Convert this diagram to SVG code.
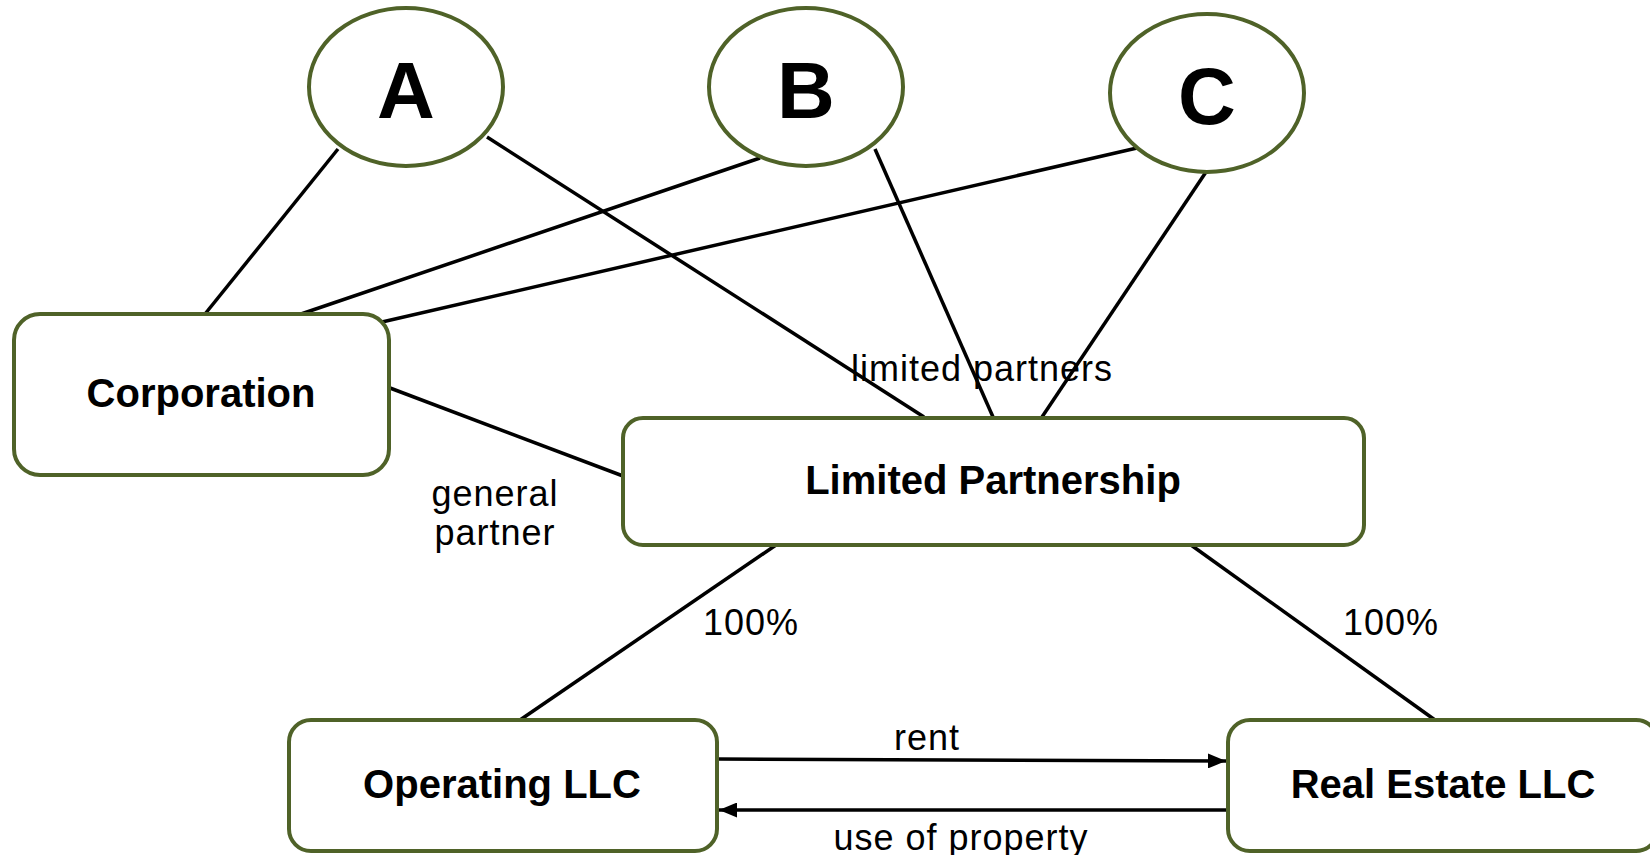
<svg xmlns="http://www.w3.org/2000/svg" width="1650" height="855" viewBox="0 0 1650 855">
  <style>
    .node { fill: #ffffff; stroke: #4f6228; stroke-width: 4; }
    .conn { stroke: #000000; stroke-width: 3.5; fill: none; }
    .title { font-family: "Liberation Sans", Arial, sans-serif; font-weight: bold; font-size: 40px; fill: #000000; text-anchor: middle; }
    .big { font-family: "Liberation Sans", Arial, sans-serif; font-weight: bold; font-size: 80px; fill: #000000; text-anchor: middle; }
    .label { font-family: "Liberation Sans", Arial, sans-serif; font-size: 36px; letter-spacing: 1px; fill: #000000; text-anchor: middle; }
  </style>
  <defs>
    <marker id="arrow" markerWidth="18" markerHeight="15" refX="18" refY="7.5" orient="auto" markerUnits="userSpaceOnUse">
      <path d="M0,0 L18,7.5 L0,15 Z" fill="#000000"/>
    </marker>
  </defs>
  <rect width="1650" height="855" fill="#ffffff"/>

  <g id="connectors">
    <line class="conn" x1="338" y1="149" x2="205" y2="314"/>
    <line class="conn" x1="487" y1="137" x2="924" y2="417"/>
    <line class="conn" x1="760" y1="158" x2="301" y2="314"/>
    <line class="conn" x1="875" y1="149" x2="993" y2="417"/>
    <line class="conn" x1="1137" y1="148" x2="382" y2="322"/>
    <line class="conn" x1="1206" y1="172" x2="1042" y2="417"/>
    <line class="conn" x1="390" y1="388" x2="623" y2="476"/>
    <line class="conn" x1="776" y1="545" x2="520" y2="720"/>
    <line class="conn" x1="1191" y1="545" x2="1435" y2="720"/>
    <line class="conn" x1="717" y1="759" x2="1226" y2="761" marker-end="url(#arrow)"/>
    <line class="conn" x1="1228" y1="810" x2="719" y2="810" marker-end="url(#arrow)"/>
    <text class="label" x="982" y="381">limited partners</text>
    <text class="label" x="495" y="506">general</text>
    <text class="label" x="495" y="545">partner</text>
    <text class="label" x="751" y="635">100%</text>
    <text class="label" x="1391" y="635">100%</text>
    <text class="label" x="927" y="750">rent</text>
    <text class="label" x="961" y="850">use of property</text>
  </g>

  <g id="node-a">
    <ellipse class="node" cx="406" cy="87" rx="97" ry="79"/>
    <text class="big" x="406" y="118">A</text>
  </g>
  <g id="node-b">
    <ellipse class="node" cx="806" cy="87" rx="97" ry="79"/>
    <text class="big" x="806" y="118">B</text>
  </g>
  <g id="node-c">
    <ellipse class="node" cx="1207" cy="93" rx="97" ry="79"/>
    <text class="big" x="1207" y="124">C</text>
  </g>

  <g id="node-corporation">
    <rect class="node" x="14" y="314" width="375" height="161" rx="26" ry="26"/>
    <text class="title" x="201" y="407">Corporation</text>
  </g>
  <g id="node-lp">
    <rect class="node" x="623" y="418" width="741" height="127" rx="20" ry="20"/>
    <text class="title" x="993" y="494">Limited Partnership</text>
  </g>
  <g id="node-operating">
    <rect class="node" x="289" y="720" width="428" height="131" rx="22" ry="22"/>
    <text class="title" x="502" y="798">Operating LLC</text>
  </g>
  <g id="node-realestate">
    <rect class="node" x="1228" y="720" width="430" height="131" rx="22" ry="22"/>
    <text class="title" x="1443" y="798">Real Estate LLC</text>
  </g>
</svg>
